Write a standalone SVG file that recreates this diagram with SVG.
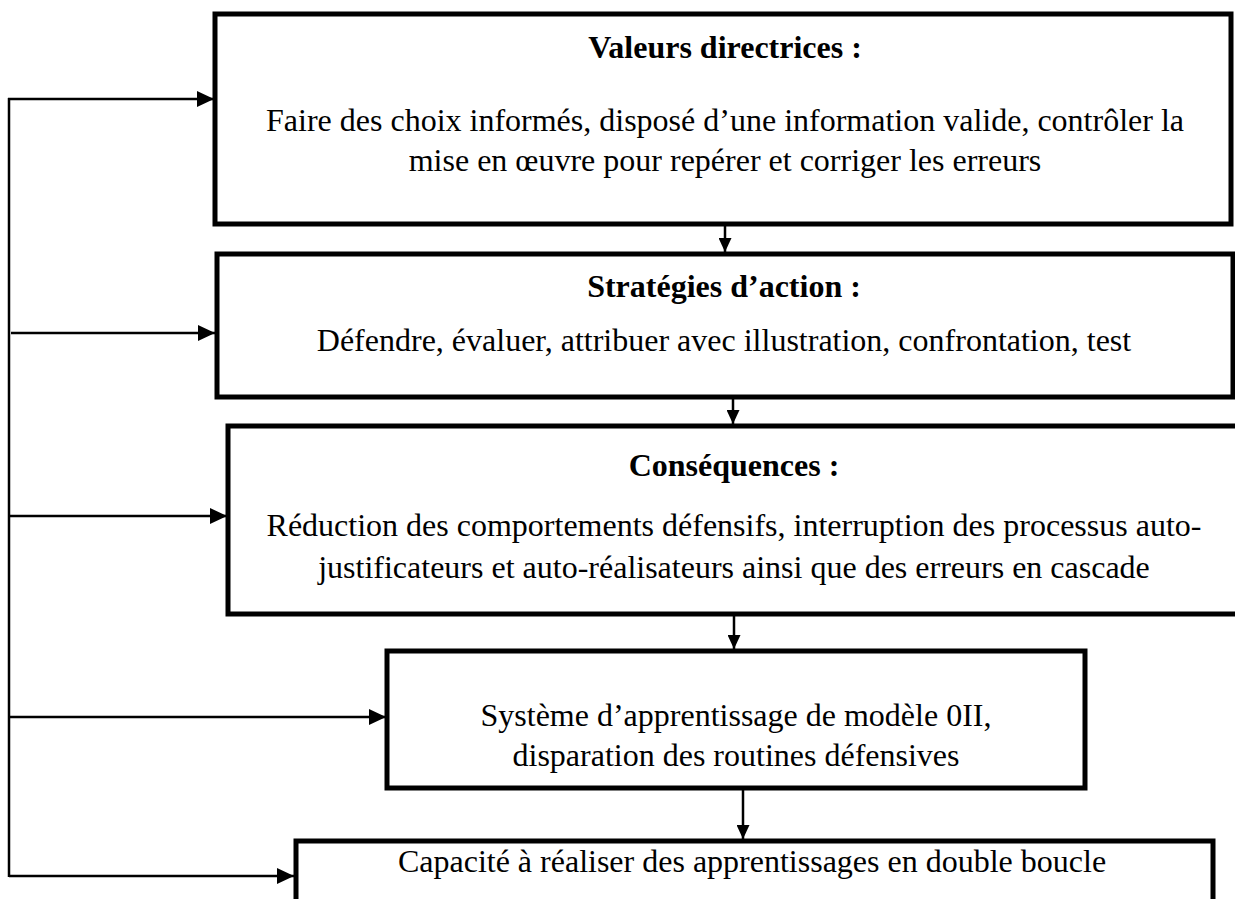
<svg xmlns="http://www.w3.org/2000/svg" width="1235" height="899" viewBox="0 0 1235 899">
  <defs>
    <style>
      .box { fill: #ffffff; stroke: #000000; stroke-width: 5; stroke-linejoin: miter; }
      .txt { font-family: "Liberation Serif", "Times New Roman", serif; font-size: 32px; fill: #000000; text-anchor: middle; }
      .ttl { font-weight: bold; }
      .wire { fill: none; stroke: #000000; stroke-width: 2.5; }
    </style>
    <marker id="headH" markerWidth="17" markerHeight="16" refX="17" refY="8" orient="auto" markerUnits="userSpaceOnUse">
      <path d="M0,0 L17,8 L0,16 Z" fill="#000000"/>
    </marker>
    <marker id="headV" markerWidth="14" markerHeight="13" refX="14" refY="6.5" orient="auto" markerUnits="userSpaceOnUse">
      <path d="M0,0 L14,6.5 L0,13 Z" fill="#000000"/>
    </marker>
  </defs>

  <rect width="1235" height="899" fill="#ffffff"/>

  <!-- feedback loop and flow arrows -->
  <g id="connectors">
    <line class="wire" x1="9" y1="98" x2="9" y2="877"/>
    <line class="wire" x1="8" y1="99" x2="214" y2="99" marker-end="url(#headH)"/>
    <line class="wire" x1="11" y1="333" x2="215" y2="333" marker-end="url(#headH)"/>
    <line class="wire" x1="9" y1="516" x2="227" y2="516" marker-end="url(#headH)"/>
    <line class="wire" x1="9" y1="717" x2="386" y2="717" marker-end="url(#headH)"/>
    <line class="wire" x1="9" y1="876" x2="294" y2="876" marker-end="url(#headH)"/>
    <line class="wire" x1="725" y1="226" x2="725" y2="252" marker-end="url(#headV)"/>
    <line class="wire" x1="733" y1="399" x2="733" y2="424" marker-end="url(#headV)"/>
    <line class="wire" x1="734" y1="616" x2="734" y2="649" marker-end="url(#headV)"/>
    <line class="wire" x1="743" y1="790" x2="743" y2="839" marker-end="url(#headV)"/>
  </g>

  <g id="valeurs">
    <rect class="box" x="215" y="14" width="1016" height="210"/>
    <text class="txt ttl" x="725" y="58">Valeurs directrices :</text>
    <text class="txt" x="725" y="131">Faire des choix informés, disposé d’une information valide, contrôler la</text>
    <text class="txt" x="725" y="171">mise en œuvre pour repérer et corriger les erreurs</text>
  </g>

  <g id="strategies">
    <rect class="box" x="217" y="254" width="1016" height="143"/>
    <text class="txt ttl" x="724" y="297">Stratégies d’action :</text>
    <text class="txt" x="724" y="351">Défendre, évaluer, attribuer avec illustration, confrontation, test</text>
  </g>

  <g id="consequences">
    <rect class="box" x="228" y="426" width="1020" height="188"/>
    <text class="txt ttl" x="734" y="476">Conséquences :</text>
    <text class="txt" x="734" y="536">Réduction des comportements défensifs, interruption des processus auto-</text>
    <text class="txt" x="734" y="578">justificateurs et auto-réalisateurs ainsi que des erreurs en cascade</text>
  </g>

  <g id="systeme">
    <rect class="box" x="387" y="651" width="698" height="137"/>
    <text class="txt" x="736" y="726">Système d’apprentissage de modèle 0II,</text>
    <text class="txt" x="736" y="766">disparation des routines défensives</text>
  </g>

  <g id="capacite">
    <rect class="box" x="296" y="841" width="917" height="100"/>
    <text class="txt" x="752" y="872">Capacité à réaliser des apprentissages en double boucle</text>
  </g>
</svg>
